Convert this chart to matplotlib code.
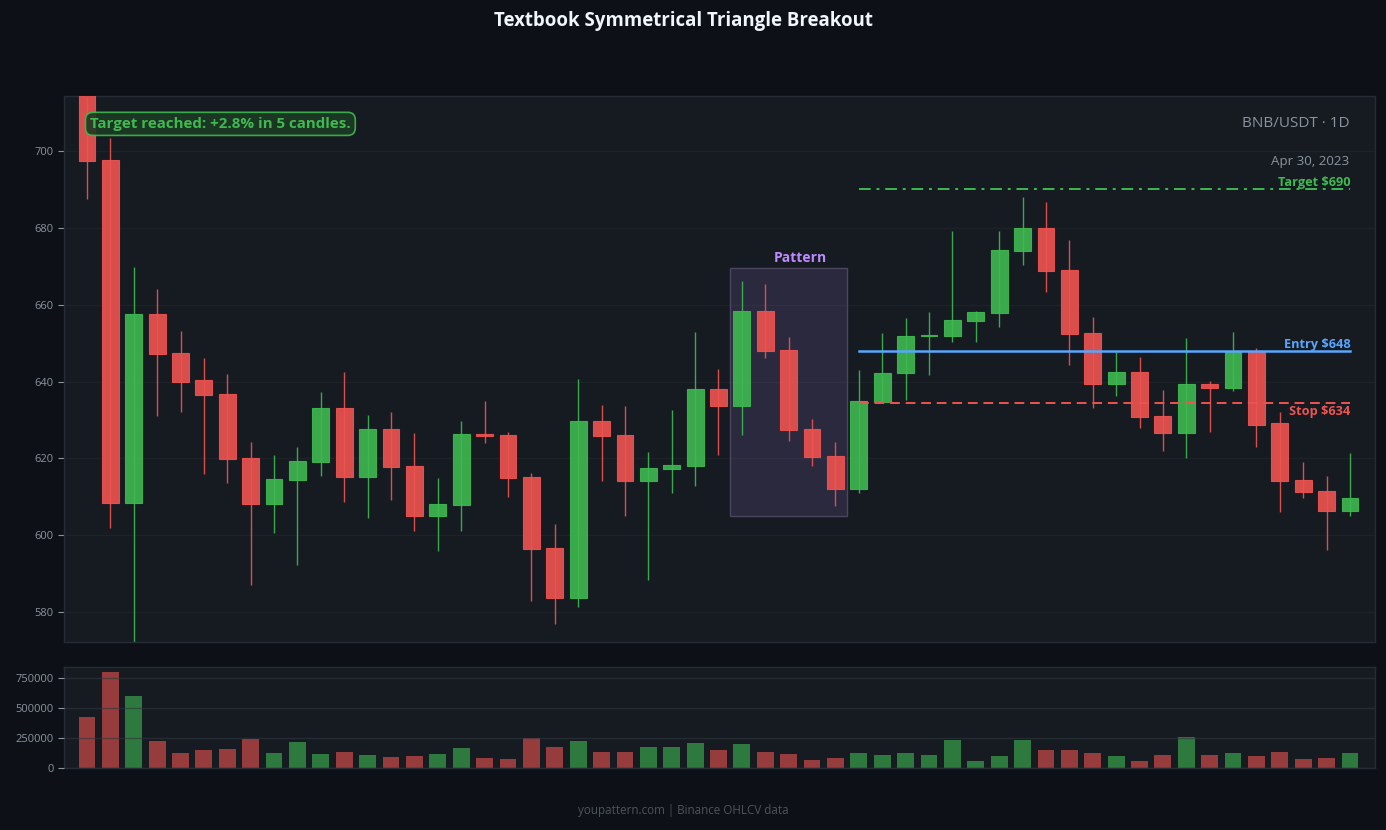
import matplotlib
matplotlib.use("Agg")
import matplotlib.pyplot as plt
from matplotlib.patches import Rectangle
from matplotlib import font_manager
import numpy as np

_avail = {f.name for f in font_manager.fontManager.ttflist}
_fam = [f for f in ['Open Sans', 'Noto Sans', 'DejaVu Sans'] if f in _avail]
plt.rcParams['font.family'] = _fam

# ---------------- data ----------------
opens = [718.0, 697.7, 608.3, 657.6, 647.4, 640.4, 636.7, 620.1, 608.1, 614.3,
         619.1, 633.1, 615.2, 627.6, 618.0, 604.9, 607.8, 626.3, 626.0, 615.1,
         596.7, 583.6, 629.7, 626.0, 614.0, 617.2, 618.0, 638.0, 633.6, 658.3,
         648.2, 627.6, 620.6, 612.0, 634.6, 642.2, 651.8, 651.8, 655.7, 657.8,
         674.0, 680.0, 669.0, 652.7, 639.3, 642.4, 631.0, 626.5, 639.3, 638.3,
         647.8, 629.2, 614.3, 611.4, 606.2]
highs = [722.0, 703.3, 669.9, 664.2, 653.2, 646.2, 642.0, 624.3, 621.0, 623.0,
         637.3, 642.5, 631.3, 632.1, 626.7, 615.0, 629.8, 635.0, 626.9, 616.3,
         603.0, 640.7, 634.0, 633.7, 621.7, 632.5, 652.9, 643.3, 666.2, 665.5,
         651.6, 630.3, 624.3, 643.1, 652.5, 656.4, 658.0, 679.3, 658.4, 679.3,
         688.1, 686.8, 676.7, 656.7, 647.8, 646.4, 637.9, 651.2, 640.2, 652.9,
         648.6, 632.1, 619.1, 615.5, 621.5]
lows = [687.4, 602.0, 571.0, 630.9, 632.1, 616.0, 613.7, 587.1, 600.5, 592.3,
        615.5, 608.7, 604.4, 609.2, 601.1, 596.0, 601.1, 623.9, 610.0, 583.0,
        576.9, 581.4, 614.1, 605.1, 588.4, 610.9, 612.9, 620.9, 626.2, 646.0,
        624.6, 617.9, 607.6, 610.9, 634.3, 635.1, 641.6, 650.4, 650.2, 654.3,
        670.2, 663.4, 644.4, 633.2, 636.3, 627.8, 622.0, 620.2, 626.9, 637.4,
        623.0, 606.0, 609.8, 596.2, 605.1]
closes = [697.4, 608.3, 657.6, 647.2, 640.0, 636.4, 619.8, 608.1, 614.6, 619.3,
          633.1, 615.2, 627.6, 617.8, 604.9, 608.1, 626.3, 625.8, 614.9, 596.4,
          583.6, 629.7, 625.8, 614.0, 617.6, 618.2, 638.0, 633.6, 658.3, 647.9,
          627.3, 620.4, 612.0, 634.9, 642.2, 651.8, 652.0, 656.0, 658.0, 674.2,
          680.0, 668.7, 652.4, 639.3, 642.4, 630.8, 626.5, 639.3, 638.3, 647.8,
          628.8, 614.0, 611.3, 606.2, 609.7]
volumes = [427800, 802800, 602800, 227800, 127800, 152800, 161100, 244400, 127800, 219400,
           119400, 136100, 111100, 94400, 102800, 119400, 169400, 86100, 77800, 252800,
           177800, 227800, 136100, 136100, 177800, 177800, 211100, 152800, 202800, 136100,
           119400, 69400, 86100, 127800, 111100, 127800, 111100, 236100, 61100, 102800,
           236100, 152800, 152800, 127800, 102800, 61100, 111100, 261100, 111100, 127800,
           102800, 136100, 77800, 86100, 127800]

pattern_start, pattern_end = 28, 32
pattern_low, pattern_high = 605.0, 669.5
breakout_idx = 33
target_price = 690.0
entry_price = 647.9
stop_price = 634.4
price_ticks = [580, 600, 620, 640, 660, 680, 700]
volume_ticks = [0, 250000, 500000, 750000]

title = "Textbook Symmetrical Triangle Breakout"
symbol_text = "BNB/USDT · 1D"
date_text = "Apr 30, 2023"
badge_text = "Target reached: +2.8% in 5 candles."
footer_text = "youpattern.com | Binance OHLCV data"

# ---------------- style ----------------
FIG_BG = "#0d1117"
AX_BG = "#161b22"
GRID = "#1d2229"
SPINE = "#262c35"
TICK = "#8b949e"
UP = "#3fb950"
DOWN = "#ef5350"
BLUE = "#58a6ff"
PURPLE = "#bc8cff"

fig = plt.figure(figsize=(13.86, 8.30), dpi=100, facecolor=FIG_BG)
ax = fig.add_axes([0.0462, 0.2265, 0.9459, 0.6578])
axv = fig.add_axes([0.0462, 0.0747, 0.9459, 0.1217])

n = len(closes)
x = np.arange(n)
o = np.array(opens); c = np.array(closes); h = np.array(highs); l = np.array(lows)
up = c >= o
cols = np.where(up, UP, DOWN)
w = 0.72

for a in (ax, axv):
    a.set_facecolor(AX_BG)
    for s in a.spines.values():
        s.set_color(SPINE)
        s.set_linewidth(1.0)
    a.tick_params(axis='y', colors=TICK, labelsize=8, length=4, width=0.8)
    a.tick_params(axis='x', length=0, labelbottom=False)
    a.grid(axis='y', color=GRID, linewidth=1.0)
    a.grid(axis='x', visible=False)
    a.set_xlim(-0.98, n + 0.07)

ax.set_axisbelow(True)
ax.vlines(x, l, h, colors=cols, linewidth=1.0, alpha=0.9, zorder=2)
body_bottom = np.minimum(o, c)
body_h = np.maximum(np.abs(c - o), 0.35)
ax.bar(x, body_h, bottom=body_bottom, width=w, color=cols, alpha=0.9,
       edgecolor=cols, linewidth=0.8, zorder=3)

ax.set_ylim(572.2, 714.3)
ax.set_yticks(price_ticks)
ax.set_yticklabels([str(t) for t in price_ticks])

rect = Rectangle((pattern_start - 0.5, pattern_low), pattern_end - pattern_start + 1,
                 pattern_high - pattern_low, facecolor=PURPLE, alpha=0.13,
                 edgecolor=None, zorder=1)
ax.add_patch(rect)
rect2 = Rectangle((pattern_start - 0.5, pattern_low), pattern_end - pattern_start + 1,
                  pattern_high - pattern_low, facecolor='none', edgecolor="#4b4560",
                  linewidth=1.0, zorder=1.5)
ax.add_patch(rect2)
ax.text((pattern_start + pattern_end) / 2 + 0.5, pattern_high + 0.9, "Pattern",
        color=PURPLE, fontsize=10, fontweight='bold', ha='center', va='bottom')

x_last = n - 1
ax.plot([breakout_idx, x_last], [target_price] * 2, color=UP, linewidth=1.4,
        linestyle=(0, (6, 3, 1.5, 3)), zorder=4)
ax.plot([breakout_idx, x_last], [entry_price] * 2, color=BLUE, linewidth=1.8, zorder=4)
ax.plot([breakout_idx, x_last], [stop_price] * 2, color=DOWN, linewidth=1.4,
        linestyle=(0, (5, 3)), zorder=4)
ax.text(x_last + 0.03, target_price + 0.2, f"Target ${target_price:.0f}", color=UP,
        fontsize=9.2, fontweight='bold', ha='right', va='bottom', zorder=5)
ax.text(x_last + 0.03, entry_price + 0.1, f"Entry ${entry_price:.0f}", color=BLUE,
        fontsize=9.2, fontweight='bold', ha='right', va='bottom', zorder=5)
ax.text(x_last + 0.03, stop_price - 0.4, f"Stop ${stop_price:.0f}", color=DOWN,
        fontsize=9.2, fontweight='bold', ha='right', va='top', zorder=5)

ax.text(0.9805, 0.95, symbol_text, transform=ax.transAxes, color=TICK, fontsize=11,
        ha='right', va='center')
ax.text(0.9805, 0.881, date_text, transform=ax.transAxes, color=TICK, fontsize=9.6,
        ha='right', va='center')
ax.text(0.0198, 0.949, badge_text, transform=ax.transAxes, color=UP, fontsize=10.9,
        fontweight='bold', ha='left', va='center', zorder=6,
        bbox=dict(boxstyle='round,pad=0.3,rounding_size=0.5', facecolor="#1c3a22",
                  edgecolor=UP, linewidth=1.2, alpha=0.9))

vcols = np.where(up, UP, DOWN)
axv.bar(x, volumes, width=w, color=vcols, alpha=0.6, zorder=1)
axv.set_ylim(0, max(volumes) * 1.048)
axv.set_yticks(volume_ticks)
axv.set_yticklabels([str(t) for t in volume_ticks])
axv.set_axisbelow(False)
axv.grid(axis='y', color="#30363d", linewidth=1.0, alpha=0.6, zorder=2)

fig.text(0.4928, 0.9745, title, color="#f0f6fc", fontsize=13.4, fontweight='bold',
         ha='center', va='center')
fig.text(0.4928, 0.0235, footer_text, color="#4d545d", fontsize=8.4, ha='center', va='center')

fig.savefig("out.png", dpi=100, facecolor=FIG_BG)
